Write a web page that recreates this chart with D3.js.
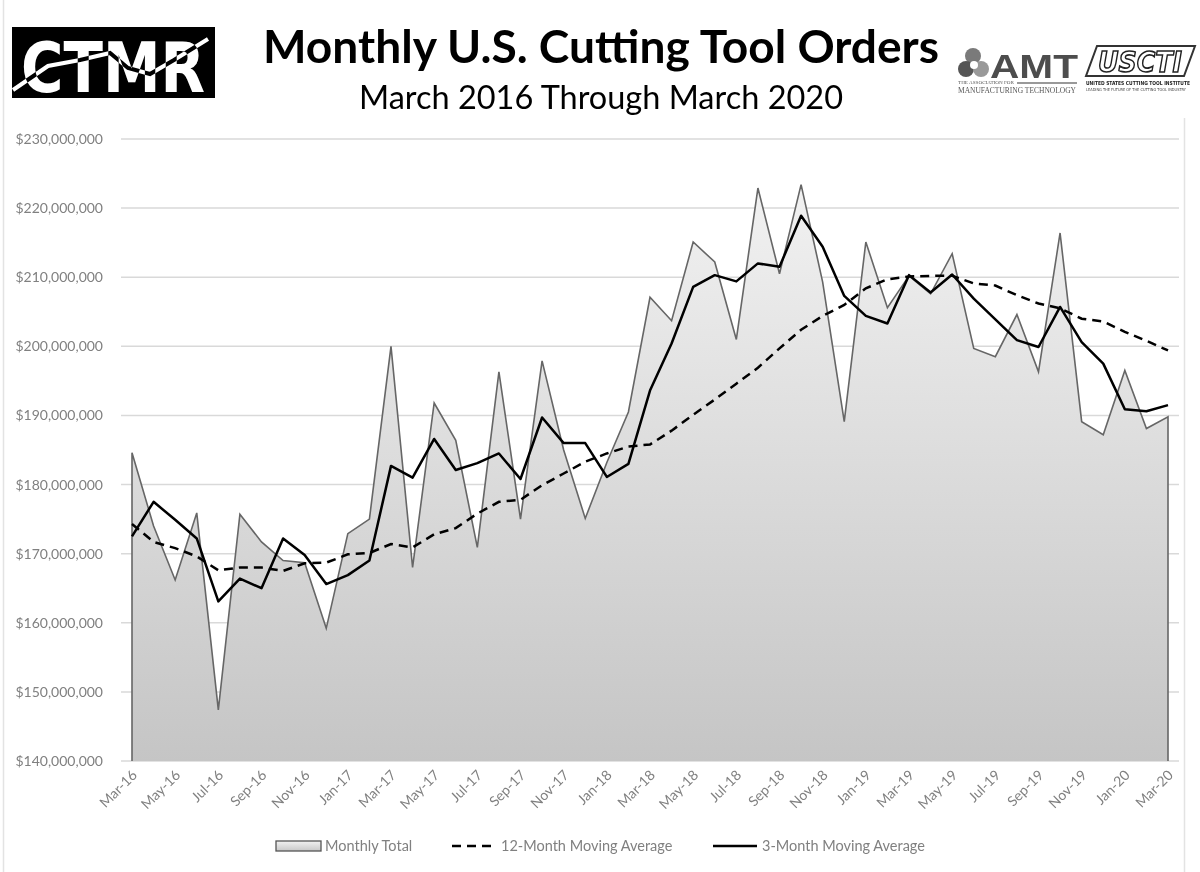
<html lang="en">
<head>
<script src="https://cdn.jsdelivr.net/npm/d3@7"></script>
<style>
body{margin:0;background:#fff;}
svg text{font-family:Lato,"Open Sans",sans-serif;}
</style>
</head>
<body>
<div id="drawarea"></div>
<script>
// chart data, values in millions of dollars
const months=["Mar-16","Apr-16","May-16","Jun-16","Jul-16","Aug-16","Sep-16","Oct-16","Nov-16","Dec-16",
"Jan-17","Feb-17","Mar-17","Apr-17","May-17","Jun-17","Jul-17","Aug-17","Sep-17","Oct-17","Nov-17","Dec-17",
"Jan-18","Feb-18","Mar-18","Apr-18","May-18","Jun-18","Jul-18","Aug-18","Sep-18","Oct-18","Nov-18","Dec-18",
"Jan-19","Feb-19","Mar-19","Apr-19","May-19","Jun-19","Jul-19","Aug-19","Sep-19","Oct-19","Nov-19","Dec-19",
"Jan-20","Feb-20","Mar-20"]
const monthlyTotal=[184.6,174.0,166.2,175.9,147.4,175.7,171.7,169.0,168.7,159.2,
172.9,175.0,200.0,168.0,191.8,186.4,170.9,196.3,175.0,197.9,185.0,175.1,
183.2,190.5,207.1,203.7,215.1,212.2,201.0,222.9,210.5,223.4,209.3,189.1,
215.1,205.6,210.2,207.6,213.4,199.7,198.5,204.6,196.3,216.4,189.1,187.2,
196.5,188.1,189.8]
const avg12=[174.3,171.7,170.8,169.6,167.6,168.0,168.0,167.5,168.6,168.7,
169.9,170.1,171.4,170.9,172.8,173.7,175.8,177.5,177.8,179.9,181.6,183.3,
184.5,185.5,185.8,187.8,190.1,192.3,194.6,196.9,199.7,202.4,204.4,206.0,
208.4,209.7,210.1,210.2,210.2,209.1,208.8,207.4,206.2,205.5,204.0,203.6,
202.1,200.8,199.4]
const avg3=[172.5,177.5,174.9,172.2,163.1,166.4,165.0,172.2,169.8,165.6,
166.9,169.0,182.7,181.0,186.6,182.1,183.1,184.5,180.8,189.7,186.0,186.0,
181.1,183.0,193.6,200.4,208.6,210.3,209.4,212.0,211.5,218.9,214.4,207.3,
204.4,203.3,210.3,207.8,210.4,206.9,203.9,200.9,199.9,205.7,200.6,197.5,
190.9,190.6,191.5]
const yTicks=[140,150,160,170,180,190,200,210,220,230]
const xTickLabels=months.filter((d,i)=>i%2==0)
const legendNames=["Monthly Total","12-Month Moving Average","3-Month Moving Average"]

const W=1200,H=872
const svg=d3.select("#drawarea").append("svg").attr("width",W).attr("height",H)

// frame lines
svg.append("line").attr("x1",3.5).attr("x2",3.5).attr("y1",0).attr("y2",H).style("stroke","#e3e3e3").style("stroke-width",1.5)
svg.append("line").attr("x1",1184.5).attr("x2",1184.5).attr("y1",118).attr("y2",H).style("stroke","#e3e3e3").style("stroke-width",1.5)

// titles
svg.append("text").attr("x",601).attr("y",63).attr("text-anchor","middle")
  .attr("textLength",676).attr("lengthAdjust","spacingAndGlyphs")
  .style("font-size","45px").style("font-weight","bold").style("fill","#000").text("Monthly U.S. Cutting Tool Orders")
svg.append("text").attr("x",601).attr("y",109).attr("text-anchor","middle")
  .attr("textLength",484).attr("lengthAdjust","spacingAndGlyphs")
  .style("font-size","33px").style("fill","#000").text("March 2016 Through March 2020")

// CTMR logo
const logo=svg.append("g")
logo.append("rect").attr("x",12).attr("y",27).attr("width",203).attr("height",71).style("fill","#000")
logo.append("text").attr("x",113).attr("y",92).attr("text-anchor","middle")
  .attr("textLength",184).attr("lengthAdjust","spacingAndGlyphs")
  .style("font-family","'DejaVu Sans'").style("font-weight","bold").style("font-size","70px").style("fill","#fff").text("CTMR")
logo.append("polyline").attr("points","13,90 48,66 80,60 110,53 128,68 150,74 174,60 208,39")
  .style("fill","none").style("stroke","#fff").style("stroke-width",4).style("mix-blend-mode","difference")

// AMT logo
const amt=svg.append("g")
amt.append("circle").attr("cx",973).attr("cy",56).attr("r",8).style("fill","#7a7a7a")
amt.append("circle").attr("cx",966).attr("cy",69).attr("r",8).style("fill","#555")
amt.append("circle").attr("cx",981).attr("cy",69).attr("r",8).style("fill","#999")
amt.append("circle").attr("cx",974).attr("cy",65).attr("r",4).style("fill","#fff")
amt.append("text").attr("x",990).attr("y",78).attr("textLength",88).attr("lengthAdjust","spacingAndGlyphs")
  .style("font-family","'Liberation Sans'").style("font-weight","bold").style("font-size","34px").style("fill","#4d4d4d").text("AMT")
amt.append("text").attr("x",958).attr("y",84).attr("textLength",56).attr("lengthAdjust","spacingAndGlyphs")
  .style("font-family","'Liberation Serif'").style("font-size","5px").style("fill","#555").text("THE ASSOCIATION FOR")
amt.append("line").attr("x1",1017).attr("x2",1077).attr("y1",83).attr("y2",83).style("stroke","#999").style("stroke-width",2)
amt.append("text").attr("x",958).attr("y",93).attr("textLength",118).attr("lengthAdjust","spacingAndGlyphs")
  .style("font-family","'Liberation Serif'").style("font-size","8px").style("fill","#555").text("MANUFACTURING TECHNOLOGY")

// USCTI logo
const us=svg.append("g")
us.append("path").attr("d","M1097,46 L1195,46 L1184,76 L1086,76 Z").style("fill","none").style("stroke","#333").style("stroke-width",2)
us.append("text").attr("x",1140).attr("y",72).attr("text-anchor","middle").attr("textLength",84).attr("lengthAdjust","spacingAndGlyphs")
  .style("font-family","'DejaVu Sans'").style("font-weight","bold").style("font-style","italic").style("font-size","29px")
  .style("fill","#fff").style("stroke","#222").style("stroke-width",1.6).text("USCTI")
us.append("text").attr("x",1086).attr("y",85).attr("textLength",104).attr("lengthAdjust","spacingAndGlyphs")
  .style("font-family","'DejaVu Sans'").style("font-weight","bold").style("font-size","5.5px").style("fill","#222").text("UNITED STATES CUTTING TOOL INSTITUTE")
us.append("text").attr("x",1086).attr("y",91).attr("textLength",100).attr("lengthAdjust","spacingAndGlyphs")
  .style("font-family","'DejaVu Sans'").style("font-size","4px").style("fill","#444").text("LEADING THE FUTURE OF THE CUTTING TOOL INDUSTRY")

// scales
const x=d3.scalePoint().domain(months).range([132,1168])
const y=d3.scaleLinear().domain([140,230]).range([761,139])
const plotL=121,plotR=1179

// gridlines
svg.append("g").selectAll("line").data(yTicks).enter().append("line")
  .attr("x1",plotL).attr("x2",plotR).attr("y1",d=>y(d)).attr("y2",d=>y(d))
  .style("stroke","#d9d9d9").style("stroke-width",1.5)

// y axis labels
const fmt=d3.format(",")
svg.append("g").selectAll("text").data(yTicks).enter().append("text")
  .attr("x",103).attr("y",d=>y(d)+5).attr("text-anchor","end")
  .style("font-size","14px").style("fill","#808080").text(d=>"$"+fmt(d*1e6))

// gradient for area
const defs=svg.append("defs")
const grad=defs.append("linearGradient").attr("id","areaGrad").attr("gradientUnits","userSpaceOnUse")
  .attr("x1",0).attr("x2",0).attr("y1",139).attr("y2",761)
grad.append("stop").attr("offset","0%").attr("stop-color","#f5f5f5")
grad.append("stop").attr("offset","100%").attr("stop-color","#c5c5c5")

const area=d3.area().x((d,i)=>x(months[i])).y0(y(140)).y1(d=>y(d))
svg.append("path").datum(monthlyTotal).attr("d",area).style("fill","url(#areaGrad)")
// outline incl. vertical edges
const outline=d3.line().x(d=>d[0]).y(d=>d[1])
const outPts=[[x(months[0]),y(140)]].concat(monthlyTotal.map((d,i)=>[x(months[i]),y(d)])).concat([[x(months[months.length-1]),y(140)]])
svg.append("path").datum(outPts).attr("d",outline).style("fill","none").style("stroke","#666").style("stroke-width",1.6)

const line=d3.line().x((d,i)=>x(months[i])).y(d=>y(d))
svg.append("path").datum(avg12).attr("d",line).style("fill","none").style("stroke","#000").style("stroke-width",2.5).style("stroke-dasharray","9,6")
svg.append("path").datum(avg3).attr("d",line).style("fill","none").style("stroke","#000").style("stroke-width",2.5).style("stroke-linejoin","round")

// x axis labels
svg.append("g").selectAll("text").data(xTickLabels).enter().append("text")
  .attr("text-anchor","end")
  .attr("transform",d=>"translate("+(x(d)+6)+",776) rotate(-45)")
  .style("font-size","14px").style("fill","#808080").text(d=>d)

// legend
const lg=svg.append("g")
const lgr=defs.append("linearGradient").attr("id","legGrad").attr("x1",0).attr("x2",0).attr("y1",0).attr("y2",1)
lgr.append("stop").attr("offset","0%").attr("stop-color","#f2f2f2")
lgr.append("stop").attr("offset","100%").attr("stop-color","#c8c8c8")
lg.append("rect").attr("x",276).attr("y",841).attr("width",45).attr("height",10)
  .style("fill","url(#legGrad)").style("stroke","#555").style("stroke-width",1.3)
lg.append("line").attr("x1",452).attr("x2",496).attr("y1",846).attr("y2",846).style("stroke","#000").style("stroke-width",2.5).style("stroke-dasharray","9,6")
lg.append("line").attr("x1",713).attr("x2",757).attr("y1",846).attr("y2",846).style("stroke","#000").style("stroke-width",2.5)
const lgX=[325,501,762]
lg.selectAll("text.leg").data(legendNames).enter().append("text").attr("class","leg")
  .attr("x",(d,i)=>lgX[i]).attr("y",851).style("font-size","14.5px").style("fill","#808080").text(d=>d)
</script>
</body>
</html>
